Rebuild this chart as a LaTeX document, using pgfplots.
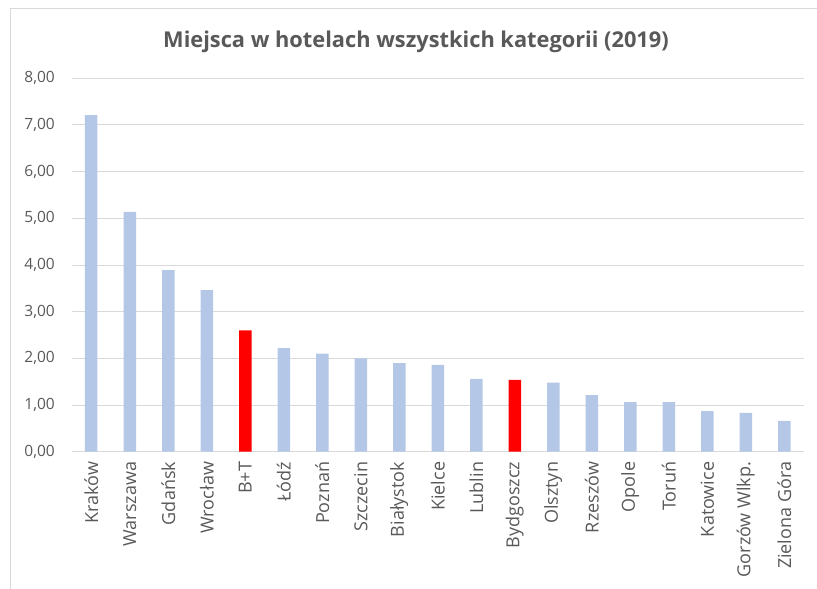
\documentclass[border=0pt]{standalone}
\usepackage{pgfplots}
\pgfplotsset{compat=1.18}
\usepackage{fontspec}
\setmainfont{Open Sans}
\definecolor{barblue}{HTML}{B4C7E7}
\definecolor{txt}{HTML}{595959}
\definecolor{gridc}{HTML}{D9D9D9}
\begin{document}
\begin{tikzpicture}
\path[use as bounding box] (0pt,0pt) rectangle (817pt,589pt);
\draw[gridc, line width=1pt] (10pt,0pt) -- (10pt,580pt) -- (817pt,580pt);
\node[text=txt, font=\fontsize{21.8}{24}\selectfont\bfseries] at (416pt,547pt) {Miejsca w hotelach wszystkich kategorii (2019)};
\begin{axis}[
  at={(72pt,137.3pt)}, anchor=south west,
  scale only axis, width=731.5pt, height=373.4pt,
  xmin=-0.5, xmax=18.5, ymin=0, ymax=8,
  ytick={0,1,...,8},
  xtick={0,1,...,18},
  xticklabels={Kraków,Warszawa,Gdańsk,Wrocław,B+T,Łódź,Poznań,Szczecin,Białystok,Kielce,Lublin,Bydgoszcz,Olsztyn,Rzeszów,Opole,Toruń,Katowice,Gorzów Wlkp.,Zielona Góra},
  axis lines*=left,
  y axis line style={draw=none},
  x axis line style={gridc, line width=1pt, -},
  ymajorgrids, grid style={gridc, line width=1pt},
  major tick length=0pt,
  tick style={draw=none},
  /pgf/number format/assume math mode=true,
  /pgf/number format/fixed,
  /pgf/number format/fixed zerofill,
  /pgf/number format/precision=2,
  /pgf/number format/use comma,
  y tick label style={anchor=east, inner sep=0pt, xshift=-17pt, text=txt, font=\fontsize{15.5}{18}\selectfont},
  x tick label style={yshift=-10pt, rotate=90, anchor=east, inner sep=0pt, text=txt, font=\fontsize{18}{20}\selectfont},
  ybar, bar width=12.5pt,
]
\addplot[fill=barblue, draw=none, bar shift=0pt] coordinates {
(0,7.21) (1,5.14) (2,3.89) (3,3.46) (5,2.22) (6,2.10) (7,2.00) (8,1.90) (9,1.86) (10,1.56) (12,1.48) (13,1.21) (14,1.06) (15,1.06) (16,0.87) (17,0.83) (18,0.66)};
\addplot[fill=red, draw=none, bar shift=0pt] coordinates {(4,2.60) (11,1.54)};
\end{axis}
\end{tikzpicture}
\end{document}
